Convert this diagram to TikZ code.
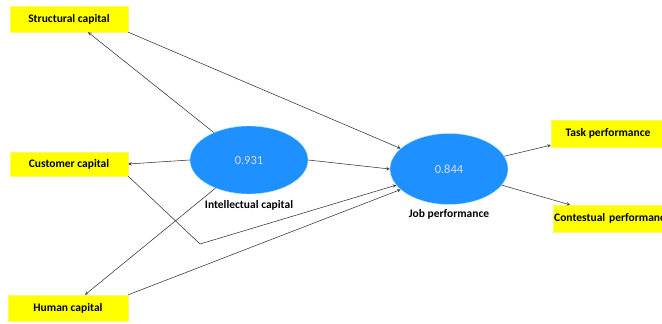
\documentclass[tikz,border=0pt]{standalone}
\usepackage{fontspec}
\setmainfont{Carlito}
\usetikzlibrary{arrows,shapes.geometric,positioning,calc}
\definecolor{latentblue}{RGB}{30,144,255}
\definecolor{boxyellow}{RGB}{255,255,0}

\begin{document}
\begin{tikzpicture}[x=1pt, y=-1pt]
    \tikzset{BoxStyle/.style={draw=yellow!60!white, fill=boxyellow,
        font=\bfseries\fontsize{11.5}{13}\selectfont,
        minimum width=118pt, minimum height=26pt, inner sep=2pt},
      LatentStyle/.style={ellipse, draw=cyan!30, fill=latentblue,
        text=blue!15!white, font=\fontsize{12.5}{14}\selectfont,
        minimum width=118pt, minimum height=68pt, inner sep=0pt},
      LabelStyle/.style={font=\bfseries\fontsize{11.5}{13}\selectfont},
      EdgeStyle/.style={->, >=stealth, draw=black!80, line width=0.55pt}}
    \useasboundingbox (0,0) rectangle (662,324);
    \clip (0,0) rectangle (662,324);
    % indicators
    \node[BoxStyle] (SC) at (69,19) {Structural capital};
    \node[BoxStyle, minimum height=24pt] (CC) at (69,164) {Customer capital};
    \node[BoxStyle, minimum width=120pt] (HC) at (68,308) {Human capital};
    \node[BoxStyle, minimum width=114pt, minimum height=27pt] (TP) at (608,133.5) {Task performance};
    \node[BoxStyle, anchor=west, minimum height=27pt, text width=130pt, align=left, inner sep=1pt] (CP) at (553,218.5) {Contestual performance};
    % latent variables
    \node[LatentStyle] (IC) at (249,160) {0.931};
    \node[LatentStyle, minimum height=71pt] (JP) at (449,169) {0.844};
    \node[LabelStyle, below=3pt of IC] (ICl) {Intellectual capital};
    \node[LabelStyle, below=1pt of JP] (JPl) {Job performance};
    \coordinate (bend) at (200,244);
    % paths
    \draw[EdgeStyle] (IC.142) -- ([xshift=19pt]SC.south);
    \draw[EdgeStyle] (IC.west) -- (CC.east);
    \draw[EdgeStyle] (IC.220) -- ([xshift=17pt]HC.north);
    \draw[EdgeStyle] (IC.east) -- (JP.west);
    \draw[EdgeStyle] (SC.south east) -- (JP.157);
    \draw[EdgeStyle] (CC.south east) -- (bend) -- (JP.197);
    \draw[EdgeStyle] (HC.north east) -- (JP.203);
    \draw[EdgeStyle] (JP.13) -- ([yshift=2pt]TP.south west);
    \draw[EdgeStyle] (JP.343) -- ([xshift=17pt]CP.north west);
\end{tikzpicture}
\end{document}
